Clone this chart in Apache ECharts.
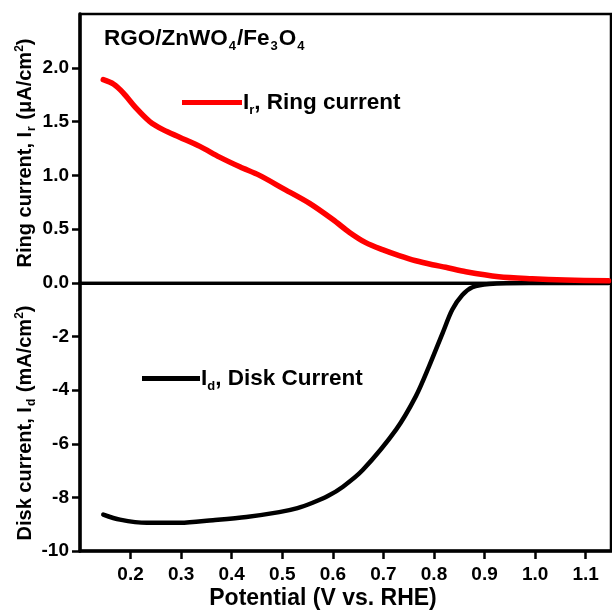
<!DOCTYPE html>
<html>
<head>
<meta charset="utf-8">
<script src="https://cdn.jsdelivr.net/npm/echarts@6/dist/echarts.min.js"></script>
<style>
  html, body { margin: 0; padding: 0; background: #fff; }
  #chart { width: 612px; height: 613px; }
</style>
</head>
<body>
<div id="chart"></div>
<script>
// Ring current (μA/cm²) versus potential (V vs. RHE)
const ringPotential = [0.146, 0.166, 0.185, 0.212, 0.238, 0.264, 0.297, 0.337, 0.376, 0.416, 0.455,
  0.501, 0.554, 0.600, 0.633, 0.665, 0.698, 0.731, 0.764, 0.797, 0.823, 0.863, 0.928, 0.994, 1.060, 1.145];
const ringCurrent = [1.89, 1.85, 1.77, 1.62, 1.50, 1.425, 1.355, 1.27, 1.17, 1.08, 1.00,
  0.88, 0.74, 0.59, 0.47, 0.375, 0.31, 0.255, 0.207, 0.17, 0.146, 0.105, 0.059, 0.04, 0.028, 0.02];

// Disk current (mA/cm²) versus potential (V vs. RHE)
const diskPotential = [0.146, 0.179, 0.232, 0.298, 0.363, 0.429, 0.494, 0.530, 0.560, 0.590, 0.620, 0.659,
  0.725, 0.764, 0.790, 0.817, 0.836, 0.856, 0.876, 0.909, 0.987, 1.060, 1.145];
const diskCurrent = [-8.64, -8.83, -8.95, -8.95, -8.85, -8.73, -8.55, -8.40, -8.20, -7.95, -7.60, -6.98,
  -5.47, -4.23, -3.12, -1.87, -1.00, -0.45, -0.16, -0.04, 0, 0, 0];

// Tick positions
const potentialTicks = [0.2, 0.3, 0.4, 0.5, 0.6, 0.7, 0.8, 0.9, 1.0, 1.1];
const ringTicks = [0, 0.5, 1.0, 1.5, 2.0];
const diskTicks = [-10, -8, -6, -4, -2];

const FONT = '"Liberation Sans", Arial, sans-serif';
const pair = (xs, ys) => xs.map((x, i) => [x, ys[i]]);

const gridLeft = 80, gridRight = 1, gridTop = 14, gridMid = 283, gridBottom = 551;

const chart = echarts.init(document.getElementById('chart'), null, { renderer: 'canvas' });

const baseX = {
  type: 'value', min: 0.1, max: 1.15,
  splitLine: { show: false }
};

chart.setOption({
  animation: false,
  backgroundColor: '#fff',
  grid: [
    { left: gridLeft, right: gridRight, top: gridTop, height: gridMid - gridTop,
      show: true, borderColor: '#000', borderWidth: 2.5, containLabel: false },
    { left: gridLeft, right: gridRight, top: gridMid, height: gridBottom - gridMid,
      show: true, borderColor: '#000', borderWidth: 2.5, containLabel: false }
  ],
  xAxis: [
    Object.assign({}, baseX, {
      gridIndex: 0,
      axisLine: { show: true, onZero: false, lineStyle: { color: '#000', width: 3 } },
      axisTick: { show: false },
      axisLabel: { show: false }
    }),
    Object.assign({}, baseX, {
      gridIndex: 1,
      axisLine: { show: true, onZero: false, lineStyle: { color: '#000', width: 3.5 } },
      axisTick: { show: true, inside: false, length: 8, customValues: potentialTicks,
        lineStyle: { color: '#000', width: 2.5 } },
      axisLabel: { show: true, customValues: potentialTicks, margin: 14,
        formatter: v => v.toFixed(1),
        color: '#000', fontFamily: FONT, fontWeight: 'bold', fontSize: 19 }
    })
  ],
  yAxis: [
    {
      type: 'value', gridIndex: 0, min: 0, max: 2.5,
      splitLine: { show: false },
      axisLine: { show: true, onZero: false, lineStyle: { color: '#000', width: 3.5 } },
      axisTick: { show: true, inside: false, length: 8, customValues: ringTicks,
        lineStyle: { color: '#000', width: 2.5 } },
      axisLabel: { show: true, customValues: ringTicks, margin: 11,
        formatter: v => v.toFixed(1),
        color: '#000', fontFamily: FONT, fontWeight: 'bold', fontSize: 19 }
    },
    {
      type: 'value', gridIndex: 1, min: -10, max: 0,
      splitLine: { show: false },
      axisLine: { show: true, onZero: false, lineStyle: { color: '#000', width: 3.5 } },
      axisTick: { show: true, inside: false, length: 8, customValues: diskTicks,
        lineStyle: { color: '#000', width: 2.5 } },
      axisLabel: { show: true, customValues: diskTicks, margin: 11,
        formatter: v => String(v),
        color: '#000', fontFamily: FONT, fontWeight: 'bold', fontSize: 19 }
    }
  ],
  legend: [
    {
      data: ['Ring current'], left: 177, top: 86,
      icon: 'rect', itemWidth: 60, itemHeight: 5, itemGap: 0,
      formatter: () => 'I{sub|r}{m|, Ring current}',
      textStyle: {
        color: '#000', fontFamily: FONT, fontWeight: 'bold', fontSize: 22.5, padding: [0, 0, 0, -4],
        rich: {
          sub: { fontFamily: FONT, fontWeight: 'bold', fontSize: 13, padding: [16, 0, 0, 0] },
          m: { fontFamily: FONT, fontWeight: 'bold', fontSize: 22.5 }
        }
      }
    },
    {
      data: ['Disk Current'], left: 137, top: 362,
      icon: 'rect', itemWidth: 58, itemHeight: 5, itemGap: 0,
      formatter: () => 'I{sub|d}{m|, Disk Current}',
      textStyle: {
        color: '#000', fontFamily: FONT, fontWeight: 'bold', fontSize: 22.5, padding: [0, 0, 0, -4],
        rich: {
          sub: { fontFamily: FONT, fontWeight: 'bold', fontSize: 13, padding: [16, 0, 0, 0] },
          m: { fontFamily: FONT, fontWeight: 'bold', fontSize: 22.5 }
        }
      }
    }
  ],
  graphic: [
    {
      type: 'text', left: 104, top: 27,
      style: {
        text: 'RGO/ZnWO{sub|4}/Fe{sub|3}O{sub|4}',
        fill: '#000', font: 'bold 22.5px ' + FONT,
        rich: {
          sub: { fontFamily: FONT, fontWeight: 'bold', fontSize: 13, padding: [16, 1, 0, 1] }
        }
      }
    },
    {
      type: 'text', x: 323, y: 599,
      style: {
        text: 'Potential (V vs. RHE)',
        fill: '#000', font: 'bold 23px ' + FONT,
        align: 'center', verticalAlign: 'middle'
      }
    },
    {
      type: 'text', x: 25, y: 153, rotation: Math.PI / 2,
      style: {
        text: 'Ring current, I{sub|r} (μA/cm{sup|2})',
        fill: '#000', font: 'bold 20px ' + FONT,
        align: 'center', verticalAlign: 'middle',
        rich: {
          sub: { fontFamily: FONT, fontWeight: 'bold', fontSize: 12, padding: [14, 1, 0, 1] },
          sup: { fontFamily: FONT, fontWeight: 'bold', fontSize: 12, padding: [0, 0, 10, 0] }
        }
      }
    },
    {
      type: 'text', x: 25, y: 423, rotation: Math.PI / 2,
      style: {
        text: 'Disk current, I{sub|d} (mA/cm{sup|2})',
        fill: '#000', font: 'bold 20px ' + FONT,
        align: 'center', verticalAlign: 'middle',
        rich: {
          sub: { fontFamily: FONT, fontWeight: 'bold', fontSize: 12, padding: [14, 1, 0, 1] },
          sup: { fontFamily: FONT, fontWeight: 'bold', fontSize: 12, padding: [0, 0, 10, 0] }
        }
      }
    }
  ],
  series: [
    {
      name: 'Ring current', type: 'line', xAxisIndex: 0, yAxisIndex: 0,
      data: pair(ringPotential, ringCurrent),
      smooth: 0.3, showSymbol: false, symbol: 'none',
      lineStyle: { color: '#ff0000', width: 5.5, cap: 'round', join: 'round' },
      itemStyle: { color: '#ff0000' },
      clip: true, z: 3
    },
    {
      name: 'Disk Current', type: 'line', xAxisIndex: 1, yAxisIndex: 1,
      data: pair(diskPotential, diskCurrent),
      smooth: 0.3, showSymbol: false, symbol: 'none',
      lineStyle: { color: '#000', width: 4.5, cap: 'round', join: 'round' },
      itemStyle: { color: '#000' },
      clip: false, z: 2
    }
  ]
});
</script>
</body>
</html>
